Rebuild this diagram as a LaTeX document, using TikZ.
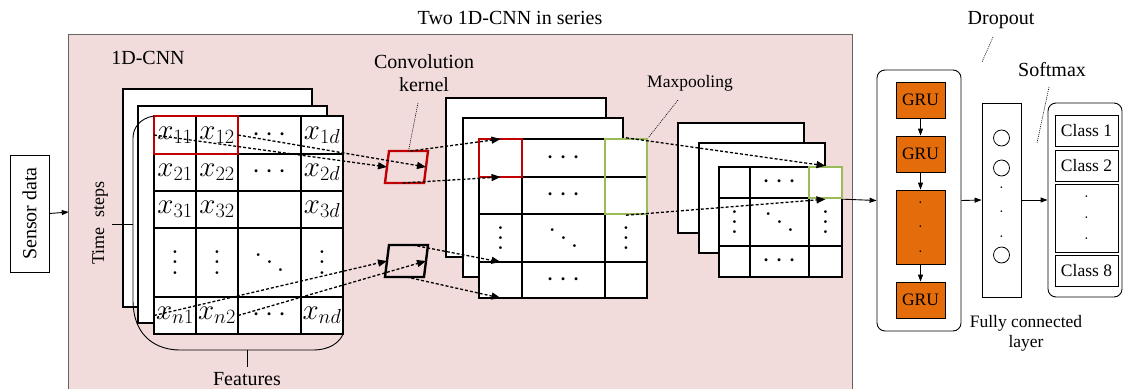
\documentclass[tikz,border=0pt]{standalone}
\usepackage{fix-cm}
\usepackage[no-math]{fontspec}
\setmainfont{Liberation Serif}
\usetikzlibrary{arrows.meta,calc,fit}

\definecolor{cnnpink}{RGB}{241,219,219}
\definecolor{kred}{RGB}{192,0,0}
\definecolor{kgreen}{RGB}{155,187,89}
\definecolor{gruorange}{RGB}{228,108,10}
\definecolor{framegray}{RGB}{100,100,100}

\newcommand\gvdots{\vbox{\baselineskip=0.35em\lineskiplimit=-10pt\hbox{$.$}\hbox{$.$}\hbox{$.$}}}
\newcommand\gddots{$\mkern1mu\raise0.54em\hbox{$.$}\mkern2mu\raise0.27em\hbox{$.$}\mkern2mu\hbox{$.$}\mkern1mu$}
\newcommand\sepdots[1]{\vbox{\baselineskip=#1\lineskiplimit=0pt\hbox{$.$}\hbox{$.$}\hbox{$.$}}}
\newcommand\mycell[6]{%
  \node[cellst, minimum width={#4pt-#2pt}, minimum height={#5pt-#3pt}] (#1) at ({(#2+#4)/2},{(#3+#5)/2}) {};
  \node[mth] (#1-t) at (#1) {#6};}

\begin{document}
\begin{tikzpicture}[x=1pt,y=-1pt,
  lab/.style={font=\fontsize{20}{23}\selectfont, inner sep=0pt},
  smlab/.style={font=\fontsize{17.5}{20}\selectfont, inner sep=0pt},
  sheet/.style={draw, fill=white, line width=1.2pt},
  cellst/.style={draw, fill=white, line width=1.6pt, inner sep=0pt, outer sep=0pt},
  mth/.style={font=\fontsize{29}{31}\selectfont, inner sep=0pt},
  dasharrow/.style={line width=1.3pt, dash pattern=on 3pt off 2pt, -{Triangle[length=9pt,width=7pt]}},
  leader/.style={line width=0.6pt, dash pattern=on 1pt off 1pt},
  solidarrow/.style={line width=0.9pt, -{Triangle[length=7pt,width=5pt]}},
  grubox/.style={draw, fill=gruorange, line width=0.8pt, minimum width=49pt, inner sep=0pt, font=\fontsize{17.5}{20}\selectfont},
  classbox/.style={draw, line width=0.8pt, minimum width=63pt, inner sep=0pt, font=\fontsize{17.5}{20}\selectfont},
  kernel/.style={line width=2.4pt, line join=miter},
]
\useasboundingbox (0,0) rectangle (1123,388);

% pink 1D-CNN region
\node[fill=cnnpink, minimum width=783pt, minimum height=354pt, inner sep=0pt] (cnn) at (460.5,212) {};
\draw[framegray, line width=1.2pt] (cnn.south west) -- (cnn.north west) -- (cnn.north east) -- (cnn.south east);

% labels
\node[lab] (title) at (510,18) {Two 1D-CNN in series};
\node[lab] (cnnlab) at (148,58) {1D-CNN};
\node[lab, align=center] (convlab) at (424,73) {Convolution\\kernel};
\node[smlab] (mplab) at (690,83) {Maxpooling};
\node[lab] (droplab) at (1001,20) {Dropout};
\node[lab] (softlab) at (1052,70) {Softmax};
\node[smlab, align=center] (fclab) at (1026,333) {Fully connected\\layer};
\node[lab] (featlab) at (247,379) {Features};
\node[font=\fontsize{18}{20}\selectfont, rotate=90, inner sep=0pt] (tslab) at (100,223) {Time\hspace{10pt}steps};

% sensor data
\node[draw, line width=0.9pt, rotate=90, minimum width=117pt, minimum height=39pt, inner sep=0pt, font=\fontsize{20}{23}\selectfont] (sensor) at (29.5,213.5) {Sensor data};
\draw[solidarrow] (sensor.south) -- (cnn.west);

% input sheets
\draw[sheet] (123,89) rectangle (312,307);
\draw[sheet] (138,106) rectangle (327,323);

% grid 1
\mycell{g1-11}{154}{116}{196}{154}{$x_{11}$}
\mycell{g1-12}{196}{116}{238}{154}{$x_{12}$}
\mycell{g1-13}{238}{116}{301}{154}{$\cdots$}
\mycell{g1-14}{301}{116}{343}{154}{$x_{1d}$}
\mycell{g1-21}{154}{154}{196}{191}{$x_{21}$}
\mycell{g1-22}{196}{154}{238}{191}{$x_{22}$}
\mycell{g1-23}{238}{154}{301}{191}{$\cdots$}
\mycell{g1-24}{301}{154}{343}{191}{$x_{2d}$}
\mycell{g1-31}{154}{191}{196}{228}{$x_{31}$}
\mycell{g1-32}{196}{191}{238}{228}{$x_{32}$}
\mycell{g1-33}{238}{191}{301}{228}{}
\mycell{g1-34}{301}{191}{343}{228}{$x_{3d}$}
\mycell{g1-41}{154}{228}{196}{297}{\gvdots}
\mycell{g1-42}{196}{228}{238}{297}{\gvdots}
\mycell{g1-43}{238}{228}{301}{297}{\gddots}
\mycell{g1-44}{301}{228}{343}{297}{\gvdots}
\mycell{g1-51}{154}{297}{196}{334}{$x_{n1}$}
\mycell{g1-52}{196}{297}{238}{334}{$x_{n2}$}
\mycell{g1-53}{238}{297}{301}{334}{$\cdots$}
\mycell{g1-54}{301}{297}{343}{334}{$x_{nd}$}
\draw[kred, kernel] (g1-11.north west) rectangle (g1-12.south east);
\draw[kernel] (g1-51.north west) rectangle (g1-52.south east);

% brackets
\draw[line width=0.9pt] (154,116) .. controls (140,118) and (133,128) .. (133,138) -- (133,300)
   .. controls (133,338) and (158,350) .. (180,350) -- (313,350) .. controls (330,350) and (340,342) .. (343,334);
\coordinate (tsA) at (112,224); \coordinate (tsB) at (133,224);
\draw[line width=0.9pt] (tsA) -- (tsB);
\coordinate (ftA) at (247,350); \coordinate (ftB) at (247,367);
\draw[line width=0.9pt] (ftA) -- (ftB);

% kernels
\coordinate (kr-tl) at (389,151); \coordinate (kr-tr) at (428,151);
\coordinate (kr-br) at (424,183); \coordinate (kr-bl) at (385,183);
\draw[kred, kernel] (kr-tl) -- (kr-tr) -- (kr-br) -- (kr-bl) -- cycle;
\coordinate (kb-tl) at (389,245); \coordinate (kb-tr) at (428,245);
\coordinate (kb-br) at (424,277); \coordinate (kb-bl) at (385,277);
\draw[kernel] (kb-tl) -- (kb-tr) -- (kb-br) -- (kb-bl) -- cycle;

% second stack
\draw[sheet] (446,98) rectangle (606,257);
\draw[sheet] (463,118) rectangle (623,277);
\mycell{g2-11}{479}{139}{522}{177}{}
\mycell{g2-12}{522}{139}{605}{177}{$\cdots$}
\mycell{g2-13}{605}{139}{647}{177}{}
\mycell{g2-21}{479}{177}{522}{214}{}
\mycell{g2-22}{522}{177}{605}{214}{$\cdots$}
\mycell{g2-23}{605}{177}{647}{214}{}
\mycell{g2-31}{479}{214}{522}{262}{\gvdots}
\mycell{g2-32}{522}{214}{605}{262}{\gddots}
\mycell{g2-33}{605}{214}{647}{262}{\gvdots}
\mycell{g2-41}{479}{262}{522}{298}{}
\mycell{g2-42}{522}{262}{605}{298}{$\cdots$}
\mycell{g2-43}{605}{262}{647}{298}{}
\draw[kred, kernel] (g2-11.north west) rectangle (g2-11.south east);
\draw[kernel] (g2-41.north west) rectangle (g2-41.south east);
\node[draw=kgreen, line width=2.4pt, inner sep=0pt, fit=(g2-13)(g2-23)] (mp2) {};

% third stack
\draw[sheet] (678,123) rectangle (804,233);
\draw[sheet] (699,143) rectangle (825,253);
\mycell{g3-11}{719}{167}{750}{198}{}
\mycell{g3-12}{750}{167}{809}{198}{$\cdots$}
\mycell{g3-13}{809}{167}{842}{198}{}
\mycell{g3-21}{719}{198}{750}{246}{\gvdots}
\mycell{g3-22}{750}{198}{809}{246}{\gddots}
\mycell{g3-23}{809}{198}{842}{246}{\gvdots}
\mycell{g3-31}{719}{246}{750}{277}{}
\mycell{g3-32}{750}{246}{809}{277}{$\cdots$}
\mycell{g3-33}{809}{246}{842}{277}{}
\node[draw=kgreen, line width=2.4pt, inner sep=0pt, fit=(g3-13)] (mp3) {};

% dashed arrows
\draw[dasharrow] (g1-11.west) -- ($(kr-tl)!0.5!(kr-bl)$);
\draw[dasharrow] (g1-12.east) -- ($(kr-tr)!0.5!(kr-br)$);
\draw[dasharrow] (g1-51.west) -- ($(kb-tl)!0.5!(kb-bl)$);
\draw[dasharrow] (g1-52.east) -- ($(kb-tr)!0.5!(kb-br)$);
\draw[dasharrow] ($(kr-tl)!0.55!(kr-tr)$) -- (g2-11.north);
\draw[dasharrow] ($(kr-bl)!0.45!(kr-br)$) -- (g2-11.south);
\draw[dasharrow] ($(kb-tl)!0.6!(kb-tr)$) -- (g2-41.north);
\draw[dasharrow] ($(kb-bl)!0.55!(kb-br)$) -- (g2-41.south);
\draw[dasharrow] (mp2.north) -- (mp3.north);
\draw[dasharrow] (mp2.south) -- (mp3.south);

% leaders
\coordinate (convA) at (418,103);
\draw[leader] (convA) -- ($(kr-tl)!0.5!(kr-tr)$);
\coordinate (mpA) at (678,100);
\draw[leader] (mpA) -- (mp2.north east);
\coordinate (dropA) at (993,37); \coordinate (dropB) at (982,62);
\draw[leader] (dropA) -- (dropB);
\coordinate (softA) at (1049,87); \coordinate (softB) at (1037,143);
\draw[leader] (softA) -- (softB);

% GRU block
\node[draw, rounded corners=8pt, line width=0.9pt, minimum width=84pt, minimum height=261pt, inner sep=0pt] (gru) at (919,200.5) {};
\node[grubox, minimum height=36pt] (gru1) at (920.5,100) {GRU};
\node[grubox, minimum height=36pt] (gru2) at (920.5,154) {GRU};
\node[grubox, minimum height=74pt] (gru3) at (920.5,227) {\sepdots{24.5pt}};
\node[grubox, minimum height=36pt] (gru4) at (920.5,300) {GRU};
\draw[solidarrow] (gru1.south) -- (gru2.north);
\draw[solidarrow] (gru2.south) -- (gru3.north);
\draw[solidarrow] (gru3.south) -- (gru4.north);
\draw[solidarrow] (mp3.south east) -- (gru.west);

% fully connected
\node[draw, line width=0.9pt, minimum width=39pt, minimum height=194pt, inner sep=0pt] (fc) at (1001.5,200) {};
\node[draw, circle, line width=0.8pt, minimum size=16pt, inner sep=0pt] (c1) at (1001.5,138) {};
\node[draw, circle, line width=0.8pt, minimum size=16pt, inner sep=0pt] (c2) at (1001.5,168) {};
\node[draw, circle, line width=0.8pt, minimum size=16pt, inner sep=0pt] (c3) at (1001.5,255) {};
\node[inner sep=0pt, font=\fontsize{17.5}{20}\selectfont] (fcdots) at (1001.5,212) {\sepdots{24.5pt}};
\draw[solidarrow] (gru.east) -- (fc.west);

% softmax
\node[draw, rounded corners=8pt, line width=0.9pt, minimum width=74pt, minimum height=194pt, inner sep=0pt] (soft) at (1085,200) {};
\node[classbox, minimum height=31pt] (cl1) at (1086.5,130.5) {Class 1};
\node[classbox, minimum height=31pt] (cl2) at (1086.5,165.5) {Class 2};
\node[classbox, minimum height=68pt] (cl3) at (1086.5,218) {\sepdots{21pt}};
\node[classbox, minimum height=31pt] (cl8) at (1086.5,270.5) {Class 8};
\draw[solidarrow] (fc.east) -- (soft.west);
\end{tikzpicture}
\end{document}
